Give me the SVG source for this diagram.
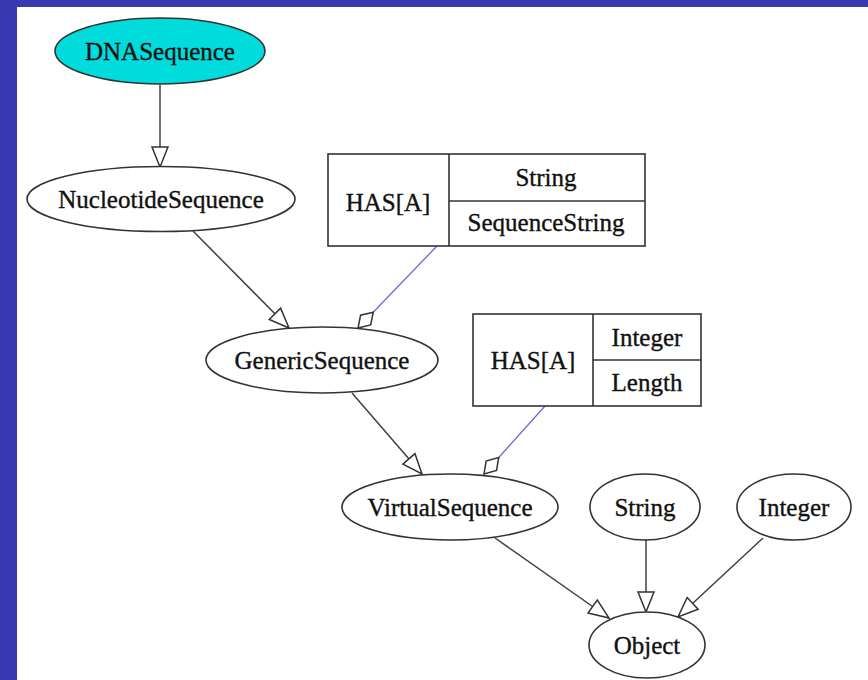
<svg xmlns="http://www.w3.org/2000/svg" width="868" height="680" viewBox="0 0 868 680">
<defs>
<style>
.node ellipse, .node rect, .node line { fill: #ffffff; stroke: #333333; stroke-width: 1.6; }
.node text { font-family: "Liberation Serif", "Times New Roman", serif; font-size: 25px; fill: #111111; stroke: #111111; stroke-width: 0.35; text-anchor: middle; }
.edge { fill: none; stroke: #404040; stroke-width: 1.5; }
.agg { fill: none; stroke: #6a6ad8; stroke-width: 1.3; }
</style>
<marker id="tri" markerUnits="userSpaceOnUse" markerWidth="22" markerHeight="18" refX="20" refY="8" orient="auto" overflow="visible">
<path d="M0,0 L20,8 L0,16 Z" fill="#ffffff" stroke="#333333" stroke-width="1.5"/>
</marker>
<marker id="dia" markerUnits="userSpaceOnUse" markerWidth="24" markerHeight="16" refX="22" refY="7" orient="auto" overflow="visible">
<path d="M0,7 L11,0 L22,7 L11,14 Z" fill="#ffffff" stroke="#333333" stroke-width="1.5"/>
</marker>
</defs>
<rect x="0" y="0" width="868" height="680" fill="#3838b2"/>
<rect x="17" y="7" width="851" height="673" fill="#ffffff"/>

<g id="connectors">
<line class="edge" x1="160" y1="85" x2="160" y2="167" marker-end="url(#tri)"/>
<line class="edge" x1="193" y1="231" x2="289" y2="328" marker-end="url(#tri)"/>
<line class="agg" x1="437" y1="246" x2="358" y2="328" marker-end="url(#dia)"/>
<line class="edge" x1="352" y1="393" x2="422" y2="474" marker-end="url(#tri)"/>
<line class="agg" x1="545" y1="406" x2="484" y2="474" marker-end="url(#dia)"/>
<line class="edge" x1="495" y1="538" x2="609" y2="618" marker-end="url(#tri)"/>
<line class="edge" x1="646" y1="540" x2="646" y2="612" marker-end="url(#tri)"/>
<line class="edge" x1="763" y1="538" x2="678" y2="617" marker-end="url(#tri)"/>
</g>

<g id="DNASequence" class="node">
<ellipse cx="160" cy="51" rx="105" ry="33" style="fill:#00dcdc"/>
<text x="160" y="60">DNASequence</text>
</g>
<g id="NucleotideSequence" class="node">
<ellipse cx="161" cy="199" rx="134" ry="32.5"/>
<text x="161" y="208">NucleotideSequence</text>
</g>
<g id="HAS_String" class="node">
<rect x="328" y="154" width="317" height="92"/>
<line x1="449" y1="154" x2="449" y2="246"/>
<line x1="449" y1="201" x2="645" y2="201"/>
<text x="388" y="211">HAS[A]</text>
<text x="546" y="186">String</text>
<text x="546" y="231">SequenceString</text>
</g>
<g id="GenericSequence" class="node">
<ellipse cx="322" cy="360" rx="116" ry="33"/>
<text x="322" y="369">GenericSequence</text>
</g>
<g id="HAS_Integer" class="node">
<rect x="473" y="314" width="228" height="92"/>
<line x1="593" y1="314" x2="593" y2="406"/>
<line x1="593" y1="360" x2="701" y2="360"/>
<text x="533" y="369">HAS[A]</text>
<text x="647" y="346">Integer</text>
<text x="647" y="391">Length</text>
</g>
<g id="VirtualSequence" class="node">
<ellipse cx="450" cy="507" rx="108" ry="33"/>
<text x="450" y="516">VirtualSequence</text>
</g>
<g id="String" class="node">
<ellipse cx="645" cy="507" rx="55" ry="33"/>
<text x="645" y="516">String</text>
</g>
<g id="Integer" class="node">
<ellipse cx="794" cy="507" rx="57" ry="33"/>
<text x="794" y="516">Integer</text>
</g>
<g id="Object" class="node">
<ellipse cx="647" cy="645" rx="58" ry="33"/>
<text x="647" y="654">Object</text>
</g>
</svg>
